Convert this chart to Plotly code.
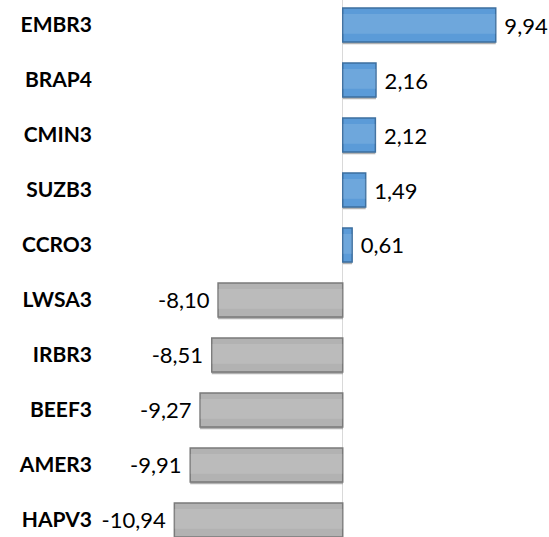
import plotly.graph_objects as go

categories = ["EMBR3", "BRAP4", "CMIN3", "SUZB3", "CCRO3",
              "LWSA3", "IRBR3", "BEEF3", "AMER3", "HAPV3"]
values = [9.94, 2.16, 2.12, 1.49, 0.61, -8.10, -8.51, -9.27, -9.91, -10.94]

NB = "\u00a0"
labels = [(NB + f"{v:.2f}".replace(".", ",")) if v >= 0
          else (f"{v:.2f}".replace(".", ",") + NB) for v in values]
fill = ["#5b9bd8" if v >= 0 else "#b2b2b2" for v in values]
edge = ["#3d6f9f" if v >= 0 else "#7a7a7a" for v in values]
tpos = ["outside"] * len(values)

fig = go.Figure()
# soft drop shadow
fig.add_trace(go.Bar(
    x=values, y=categories, orientation="h", width=0.62, offset=-0.27,
    marker=dict(color="rgba(0,0,0,0.30)", line=dict(width=0)),
    hoverinfo="skip", showlegend=False,
))
# main bars
fig.add_trace(go.Bar(
    x=values, y=categories, orientation="h", width=0.62, offset=-0.31,
    marker=dict(color=fill, line=dict(color=edge, width=1.5)),
    text=labels, textposition=tpos, cliponaxis=False,
    textfont=dict(family="Lato", size=22, color="#000000"),
    showlegend=False,
))
# inner highlight (bevel)
fig.add_trace(go.Bar(
    x=values, y=categories, orientation="h", width=0.36, offset=-0.2,
    marker=dict(color="rgba(255,255,255,0.12)", line=dict(width=0)),
    hoverinfo="skip", showlegend=False,
))

fig.update_layout(
    width=549, height=537,
    margin=dict(l=98, r=0, t=0, b=0),
    barmode="overlay",
    plot_bgcolor="white", paper_bgcolor="white",
    font=dict(family="Lato", size=22, color="#000000"),
    uniformtext=dict(minsize=22, mode="show"),
)
fig.update_xaxes(range=[-15.9, 13.4], showgrid=False, showticklabels=False,
                 zeroline=True, zerolinecolor="#d9d9d9", zerolinewidth=1,
                 ticks="", automargin=False)
fig.update_yaxes(categoryorder="array", categoryarray=categories,
                 range=[9.31, -0.455], showgrid=False, ticks="",
                 tickfont=dict(family="Lato", size=21, color="#000000",
                               weight="bold"),
                 ticklabelstandoff=5, automargin=False)

fig.write_html("out.html",
               config={"displayModeBar": False},
               post_script="document.body.style.margin='0';"
                           "document.body.style.overflow='hidden';")
